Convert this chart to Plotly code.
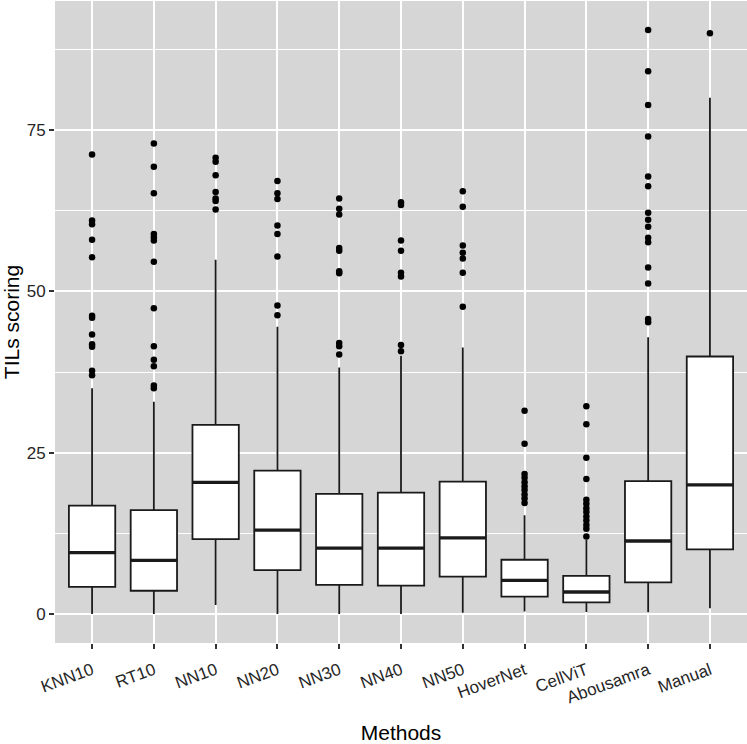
import plotly.graph_objects as go

categories = ["KNN10", "RT10", "NN10", "NN20", "NN30", "NN40", "NN50",
              "HoverNet", "CellViT", "Abousamra", "Manual"]
q1_vals = [4.2, 3.6, 11.6, 6.8, 4.5, 4.4, 5.8, 2.7, 1.8, 4.9, 10.0]
median_vals = [9.5, 8.3, 20.4, 13.0, 10.2, 10.2, 11.8, 5.2, 3.4, 11.3, 20.0]
q3_vals = [16.8, 16.1, 29.3, 22.2, 18.6, 18.8, 20.5, 8.4, 5.9, 20.6, 39.9]
lower_whisker = [0.0, 0.0, 1.4, 0.0, 0.0, 0.0, 0.2, 0.4, 0.3, 0.25, 0.9]
upper_whisker = [35.0, 32.9, 54.9, 44.5, 38.2, 40.0, 41.3, 15.3, 11.5, 42.9, 80.0]

out_knn10 = [71.2, 61.0, 60.4, 58.0, 55.3, 46.2, 45.9, 43.3, 41.8, 41.4, 37.7, 37.0]
out_rt10 = [72.9, 69.3, 65.2, 58.9, 58.4, 57.9, 54.6, 47.4, 41.5, 39.4, 38.4, 35.4, 35.0]
out_nn10 = [70.7, 70.1, 68.0, 65.4, 64.4, 64.0, 62.7]
out_nn20 = [67.1, 65.2, 64.3, 60.2, 58.9, 55.4, 47.8, 46.3]
out_nn30 = [64.4, 62.8, 61.9, 56.7, 56.3, 53.1, 52.8, 42.0, 41.5, 40.2]
out_nn40 = [63.8, 63.4, 57.9, 56.3, 52.9, 52.3, 41.7, 40.7]
out_nn50 = [65.5, 63.1, 57.1, 56.0, 55.1, 52.9, 47.6]
out_hovernet = [31.5, 26.4, 21.7, 21.1, 20.4, 19.8, 19.2, 18.5, 17.9, 17.2]
out_cellvit = [32.2, 29.4, 24.2, 20.9, 17.7, 17.1, 16.4, 15.8, 15.1, 14.5, 13.8, 13.2, 12.0]
out_abousamra = [90.5, 84.1, 78.9, 74.0, 67.8, 66.3, 62.2, 61.1, 60.0, 58.3, 57.6,
                 53.7, 51.2, 45.7, 45.2]
out_manual = [90.0]

y_ticks = [0, 25, 50, 75]

outlier_lists = [out_knn10, out_rt10, out_nn10, out_nn20, out_nn30, out_nn40,
                 out_nn50, out_hovernet, out_cellvit, out_abousamra, out_manual]

xpos = list(range(1, len(categories) + 1))
BOX_W = 0.75

fig = go.Figure()

fig.add_trace(go.Box(
    x=xpos, q1=q1_vals, median=median_vals, q3=q3_vals,
    lowerfence=lower_whisker, upperfence=upper_whisker,
    width=BOX_W, fillcolor="white",
    line=dict(color="#1a1a1a", width=1.8),
    whiskerwidth=0, boxpoints=False, showlegend=False, hoverinfo="skip",
))

# thicker median bars (ggplot style)
mx, my = [], []
for i, m in zip(xpos, median_vals):
    mx += [i - BOX_W / 2, i + BOX_W / 2, None]
    my += [m, m, None]
fig.add_trace(go.Scatter(x=mx, y=my, mode="lines",
                         line=dict(color="#1a1a1a", width=3.4),
                         showlegend=False, hoverinfo="skip"))

ox, oy = [], []
for i, lst in zip(xpos, outlier_lists):
    ox += [i] * len(lst)
    oy += lst
fig.add_trace(go.Scatter(x=ox, y=oy, mode="markers",
                         marker=dict(color="black", size=6.5),
                         showlegend=False, hoverinfo="skip"))

fig.update_layout(
    width=747, height=744,
    margin=dict(l=55, r=0, t=1, b=101),
    paper_bgcolor="white", plot_bgcolor="#D6D6D6",
    font=dict(family="Liberation Sans, Arial, sans-serif", color="black"),
    boxmode="overlay",
)
fig.update_xaxes(
    range=[0.4, len(categories) + 0.6],
    tickvals=xpos, ticktext=categories, tickangle=-20,
    tickfont=dict(size=17, color="#262626"),
    ticks="outside", ticklen=5, tickwidth=1.5, tickcolor="#333333",
    ticklabelstandoff=5,
    showgrid=True, gridcolor="white", gridwidth=1.5,
    zeroline=False, showline=False,
    title=dict(text="Methods", font=dict(size=21, color="black"), standoff=18),
)
fig.update_yaxes(
    range=[-4.5, 95.0],
    tickvals=y_ticks,
    tickfont=dict(size=17, color="#262626"),
    ticks="outside", ticklen=5, tickwidth=1.5, tickcolor="#333333",
    showgrid=True, gridcolor="white", gridwidth=1.5,
    minor=dict(dtick=12.5, tick0=0, showgrid=True, gridcolor="white", gridwidth=0.7, ticks=""),
    zeroline=False, showline=False,
    title=dict(text="TILs scoring", font=dict(size=21, color="black"), standoff=6),
)

fig.write_html("out.html", config={"displayModeBar": False},
               post_script="document.body.style.margin='0';document.body.style.padding='0';")
